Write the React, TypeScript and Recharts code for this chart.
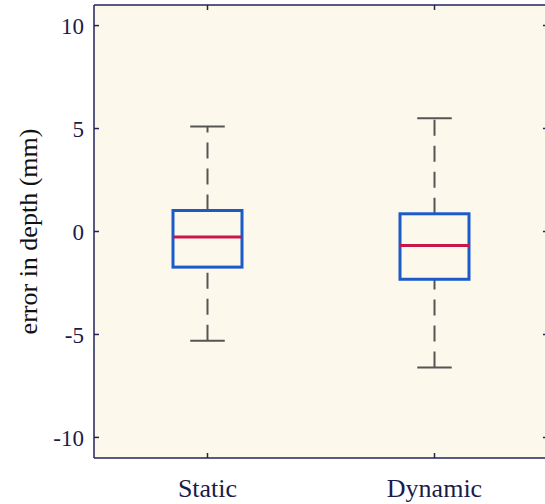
import { ComposedChart, Bar, XAxis, YAxis, CartesianGrid } from "recharts";

const categories = ["Static", "Dynamic"];
const whiskerLow = [-5.3, -6.6];
const q1 = [-1.73, -2.32];
const median = [-0.27, -0.68];
const q3 = [1.02, 0.86];
const whiskerHigh = [5.1, 5.5];
const yTicks = [-10, -5, 0, 5, 10];

const data = categories.map((name, i) => ({
  name,
  lo: whiskerLow[i],
  q1: q1[i],
  med: median[i],
  q3: q3[i],
  hi: whiskerHigh[i],
}));

const NAVY = "#23235a";
const TEXT = "#1b1b4b";
const FONT = "'Liberation Serif', 'Times New Roman', serif";

// box + whiskers drawn inside the bar's [lo, hi] range rectangle
function BoxShape(props: any) {
  const { x, y, width, height, payload } = props;
  const top = Math.min(y, y + height);
  const k = Math.abs(height) / (payload.hi - payload.lo);
  const py = (v: number) => top + (payload.hi - v) * k;
  const cx = x + width / 2;
  const cap = width / 2;
  return (
    <g>
      <line x1={cx} x2={cx} y1={py(payload.q3)} y2={py(payload.hi)} stroke="#555" strokeWidth={2} strokeDasharray="16 10" />
      <line x1={cx} x2={cx} y1={py(payload.lo)} y2={py(payload.q1)} stroke="#555" strokeWidth={2} strokeDasharray="16 10" />
      <line x1={cx - cap / 2} x2={cx + cap / 2} y1={py(payload.hi)} y2={py(payload.hi)} stroke="#555" strokeWidth={2} />
      <line x1={cx - cap / 2} x2={cx + cap / 2} y1={py(payload.lo)} y2={py(payload.lo)} stroke="#555" strokeWidth={2} />
      <rect x={x} y={py(payload.q3)} width={width} height={py(payload.q1) - py(payload.q3)} fill="none" stroke="#1a5bc8" strokeWidth={3} />
      <line x1={x} x2={x + width} y1={py(payload.med)} y2={py(payload.med)} stroke="#c8164c" strokeWidth={3} />
    </g>
  );
}

function YLabel(props: any) {
  const vb = props.viewBox || {};
  const cy = (vb.y ?? 0) + (vb.height ?? 0) / 2;
  return (
    <text x={37} y={cy} transform={`rotate(-90 37 ${cy})`} textAnchor="middle" fontSize={26} fill="#111" fontFamily={FONT}>
      error in depth (mm)
    </text>
  );
}

const NoTick = () => <g />;

export default function App() {
  return (
    <div style={{ position: "fixed", left: 0, top: 0, width: 545, height: 504, overflow: "hidden", background: "#fff" }}>
      <ComposedChart width={552} height={504} data={data} margin={{ top: 4, right: 3, bottom: 0, left: 0 }}>
        <CartesianGrid horizontal={false} vertical={false} fill="#fdf8ec" stroke="none" />
        <XAxis
          dataKey="name"
          height={46}
          stroke={NAVY}
          strokeWidth={1.5}
          tickSize={-5}
          tickMargin={25.5}
          tick={{ fontSize: 26, fill: TEXT, fontFamily: FONT }}
        />
        <XAxis xAxisId="top" dataKey="name" orientation="top" height={1} stroke={NAVY} strokeWidth={1.5} tickSize={-5} tick={NoTick} />
        <YAxis
          domain={[-11, 11]}
          ticks={yTicks}
          width={94}
          stroke={NAVY}
          strokeWidth={1.5}
          tickSize={-5}
          tickMargin={15}
          allowDataOverflow
          tick={{ fontSize: 23, fill: TEXT, fontFamily: FONT }}
          label={<YLabel />}
        />
        <YAxis yAxisId="right" orientation="right" domain={[-11, 11]} ticks={yTicks} width={1} stroke={NAVY} strokeWidth={1.5} tickSize={-5} tick={NoTick} allowDataOverflow />
        <Bar dataKey={(d: any) => [d.lo, d.hi]} barSize={69} shape={<BoxShape />} isAnimationActive={false} />
      </ComposedChart>
    </div>
  );
}
